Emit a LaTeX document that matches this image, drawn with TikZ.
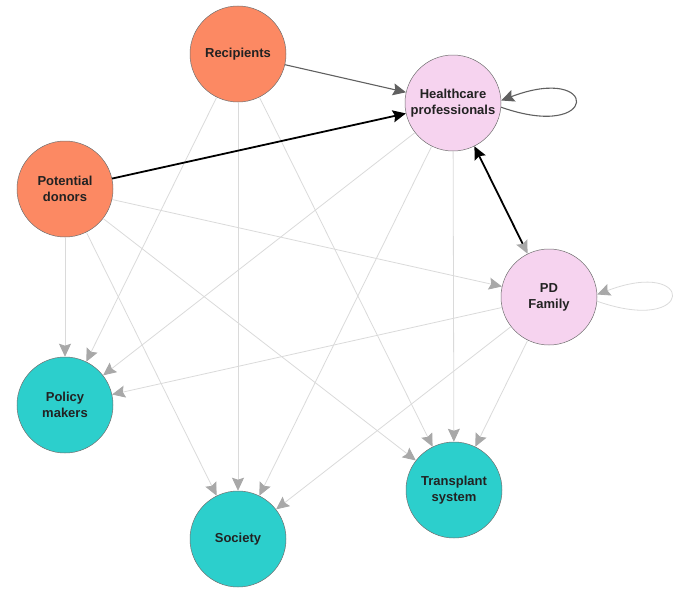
\documentclass[tikz,border=0pt]{standalone}
\usepackage{fontspec}
\setmainfont{Liberation Sans}
\usetikzlibrary{arrows.meta}
\definecolor{orangenode}{HTML}{FC8963}
\definecolor{pinknode}{HTML}{F6D3EF}
\definecolor{tealnode}{HTML}{2CCFCC}
\definecolor{nodeline}{HTML}{707070}
\definecolor{lightedge}{HTML}{DADADA}
\definecolor{tipgray}{HTML}{A8A8A8}
\definecolor{darkedge}{HTML}{606060}
\definecolor{labeltext}{HTML}{222222}
\tikzset{
  actor/.style={circle, minimum size=96pt, inner sep=0pt, draw=nodeline, line width=0.5pt,
    align=center, text=labeltext, font=\fontsize{13}{16}\selectfont\bfseries},
  lightarrow/.style={draw=lightedge, line width=0.8pt,
    -{Stealth[length=13pt,width=12pt,inset=2pt,color=tipgray]}},
  darkarrow/.style={draw=darkedge, line width=1.1pt,
    -{Stealth[length=13pt,width=12pt,inset=2pt,color=darkedge]}},
  blackarrow/.style={draw=black, line width=1.8pt,
    -{Stealth[length=13pt,width=12pt,inset=2pt,color=black]}},
  both/.style={draw=black, line width=1.8pt,
    {Stealth[length=13pt,width=12pt,inset=2pt,color=black]}-{Stealth[length=13pt,width=12pt,inset=2pt,color=tipgray]}}
}
\begin{document}
\begin{tikzpicture}[x=1pt,y=-1pt]
\useasboundingbox (0,0) rectangle (685,597);
\node[actor, fill=orangenode] (rec) at (238,54) {Recipients};
\node[actor, fill=pinknode] (hc) at (453,103) {Healthcare\\professionals};
\node[actor, fill=orangenode] (pd) at (65,189) {Potential\\donors};
\node[actor, fill=pinknode] (pdf) at (549,297) {PD\\Family};
\node[actor, fill=tealnode] (pol) at (65,405) {Policy\\makers};
\node[actor, fill=tealnode] (soc) at (238,539) {Society};
\node[actor, fill=tealnode] (ts) at (454,490) {Transplant\\system};

% light edges
\draw[lightarrow] (rec) -- (pol);
\draw[lightarrow] (rec) -- (soc);
\draw[lightarrow] (rec) -- (ts);
\draw[lightarrow] (pd) -- (pol);
\draw[lightarrow] (pd) -- (soc);
\draw[lightarrow] (pd) -- (ts);
\draw[lightarrow] (pd) -- (pdf);
\draw[lightarrow] (hc) -- (pol);
\draw[lightarrow] (hc) -- (soc);
\draw[lightarrow] (hc) -- (ts);
\draw[lightarrow] (pdf) -- (pol);
\draw[lightarrow] (pdf) -- (soc);
\draw[lightarrow] (pdf) -- (ts);
\draw[lightarrow] (pdf.-5) .. controls (696,336) and (696,257) .. (pdf.3);

% dark edges
\draw[darkarrow] (rec) -- (hc);
\draw[blackarrow] (pd) -- (hc);
\draw[both] (hc) -- (pdf);
\draw[darkarrow] (hc.-5) .. controls (600,142) and (600,63) .. (hc.3);
\end{tikzpicture}
\end{document}
